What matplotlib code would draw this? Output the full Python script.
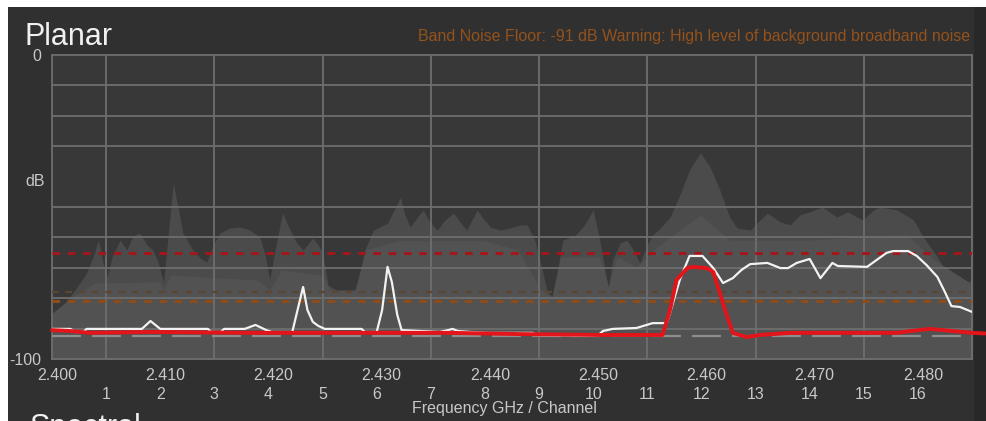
import matplotlib
matplotlib.use("Agg")
import matplotlib.pyplot as plt
from matplotlib.patches import Rectangle
from matplotlib.transforms import ScaledTranslation

# ---------------- data ----------------
# background (max-hold) envelope: frequency (GHz), level (dB)
env_freq = [2.4000, 2.4007, 2.4019, 2.4031, 2.4038, 2.4043, 2.4047, 2.4051, 2.4056, 2.4063,
            2.4069, 2.4075, 2.4081, 2.4088, 2.4093, 2.4098, 2.4103, 2.4106, 2.4112, 2.4116,
            2.4121, 2.4130, 2.4137, 2.4143, 2.4149, 2.4155, 2.4164, 2.4174, 2.4183, 2.4192,
            2.4197, 2.4201, 2.4207, 2.4213, 2.4220, 2.4226, 2.4232, 2.4241, 2.4246, 2.4250,
            2.4255, 2.4266, 2.4280, 2.4285, 2.4289, 2.4297, 2.4310, 2.4316, 2.4322, 2.4326,
            2.4331, 2.4337, 2.4343, 2.4349, 2.4356, 2.4363, 2.4371, 2.4377, 2.4383, 2.4388,
            2.4393, 2.4398, 2.4405, 2.4414, 2.4423, 2.4432, 2.4439, 2.4446, 2.4452, 2.4457,
            2.4462, 2.4467, 2.4472, 2.4483, 2.4492, 2.4500, 2.4506, 2.4511, 2.4514, 2.4518,
            2.4525, 2.4531, 2.4537, 2.4543, 2.4550, 2.4555, 2.4562, 2.4571, 2.4580, 2.4589,
            2.4599, 2.4608, 2.4617, 2.4626, 2.4633, 2.4645, 2.4654, 2.4661, 2.4673, 2.4682,
            2.4691, 2.4700, 2.4712, 2.4725, 2.4735, 2.4749, 2.4759, 2.4765, 2.4781, 2.4796,
            2.4805, 2.4818, 2.4825, 2.4832, 2.4839, 2.4850]
env_db = [-84.9, -83.9, -78.3, -72.4, -66.4, -60.9, -68.1, -73.0, -65.8, -60.9,
          -64.1, -59.5, -58.6, -62.5, -64.1, -68.1, -75.0, -64.1, -42.1, -49.3,
          -58.6, -64.1, -66.8, -68.1, -62.5, -58.6, -56.9, -56.6, -57.6, -59.9,
          -65.8, -74.0, -62.5, -52.0, -57.6, -61.8, -64.1, -60.2, -62.5, -64.8,
          -75.7, -78.0, -77.3, -70.7, -64.1, -57.6, -55.3, -51.0, -46.7, -52.6,
          -56.6, -53.6, -51.0, -54.9, -57.6, -54.3, -52.0, -54.9, -57.6, -54.3,
          -51.0, -53.6, -56.6, -57.6, -56.9, -55.9, -55.9, -60.9, -69.1, -77.3,
          -79.6, -70.7, -60.9, -59.5, -55.9, -51.0, -60.9, -70.7, -76.3, -67.4,
          -61.8, -60.9, -64.1, -68.4, -62.5, -59.2, -56.9, -53.3, -46.1, -37.8,
          -32.2, -36.8, -44.4, -53.3, -56.9, -57.6, -54.3, -52.0, -54.9, -55.9,
          -52.6, -51.6, -50.0, -53.3, -51.6, -54.3, -51.0, -50.0, -51.0, -54.3,
          -59.9, -66.4, -70.7, -75.0, -75.7, -74.0]

# inner (denser) part of the background
inner_freq = [2.4000, 2.4021, 2.4040, 2.4100, 2.4103, 2.4110, 2.4190, 2.4201, 2.4212, 2.4250,
              2.4257, 2.4280, 2.4290, 2.4320, 2.4400, 2.4430, 2.4452, 2.4462, 2.4470, 2.4506,
              2.4514, 2.4522, 2.4540, 2.4560, 2.4599, 2.4626, 2.4700, 2.4790, 2.4815, 2.4850]
inner_db = [-84.9, -79.0, -75.0, -74.6, -77.3, -72.4, -74.0, -77.3, -70.7, -72.4,
            -77.3, -77.3, -64.1, -61.1, -61.1, -64.1, -77.3, -79.6, -66.4, -66.4,
            -76.3, -66.4, -69.7, -62.8, -52.6, -60.9, -60.9, -59.2, -67.4, -75.4]

# current max trace (white)
white_freq = [2.4000, 2.4017, 2.4021, 2.4029, 2.4032, 2.4083, 2.4091, 2.4100, 2.4144, 2.4147,
              2.4156, 2.4159, 2.4178, 2.4188, 2.4198, 2.4203, 2.4222, 2.4232, 2.4236, 2.4241,
              2.4246, 2.4252, 2.4286, 2.4289, 2.4300, 2.4305, 2.4310, 2.4314, 2.4319, 2.4323,
              2.4358, 2.4366, 2.4370, 2.4375, 2.4386, 2.4402, 2.4444, 2.4448, 2.4504, 2.4509,
              2.4518, 2.4540, 2.4555, 2.4568, 2.4571, 2.4580, 2.4589, 2.4601, 2.4611, 2.4620,
              2.4629, 2.4637, 2.4645, 2.4661, 2.4673, 2.4680, 2.4688, 2.4700, 2.4710, 2.4721,
              2.4726, 2.4753, 2.4762, 2.4771, 2.4777, 2.4791, 2.4799, 2.4808, 2.4818, 2.4825,
              2.4831, 2.4839, 2.4850]
white_db = [-90.1, -90.1, -91.1, -91.1, -90.1, -90.1, -87.5, -90.1, -90.1, -91.1,
            -91.1, -90.1, -90.1, -88.8, -90.5, -91.1, -91.1, -76.3, -83.9, -87.8,
            -89.1, -90.1, -90.1, -91.1, -91.1, -83.9, -69.7, -74.7, -85.5, -90.5,
            -91.1, -90.5, -90.1, -90.8, -91.1, -91.4, -91.4, -92.1, -92.4, -90.8,
            -90.1, -89.8, -88.2, -88.2, -84.9, -74.0, -66.1, -66.1, -70.1, -75.0,
            -73.4, -70.7, -68.8, -68.4, -70.1, -70.1, -68.4, -67.1, -73.4, -68.4,
            -69.4, -69.7, -67.4, -65.1, -64.5, -64.5, -66.1, -69.1, -73.0, -78.0,
            -82.6, -82.9, -84.5]

# current trace (red)
red_freq = [2.4000, 2.4017, 2.4035, 2.4091, 2.4183, 2.4275, 2.4368, 2.4432, 2.4506, 2.4564,
            2.4571, 2.4577, 2.4587, 2.4592, 2.4605, 2.4611, 2.4617, 2.4624, 2.4629, 2.4642,
            2.4654, 2.4682, 2.4737, 2.4781, 2.4793, 2.4811, 2.4832, 2.4850, 2.4862]
red_db = [-90.5, -90.8, -91.4, -91.1, -91.4, -91.4, -91.4, -91.8, -92.1, -92.1,
          -83.9, -74.0, -70.1, -69.7, -70.1, -71.4, -78.3, -86.2, -91.4, -92.8,
          -92.1, -91.4, -91.4, -91.4, -90.8, -90.1, -90.8, -91.4, -91.6]

# threshold lines (dB)
red_threshold = -65.0
brown_threshold = -78.0
orange_threshold = -81.0
noise_floor = -92.4

freq_ticks = [2.400, 2.410, 2.420, 2.430, 2.440, 2.450, 2.460, 2.470, 2.480]
freq_labels = ["2.400", "2.410", "2.420", "2.430", "2.440", "2.450", "2.460", "2.470", "2.480"]
channels = list(range(1, 17))
channel_freqs = [2.400 + 0.005 * c for c in channels]
y_ticks = [0, -40, -100]
y_labels = ["0", "dB", "-100"]

title = "Planar"
warning = "Band Noise Floor: -91 dB Warning: High level of background broadband noise"
xlabel = "Frequency GHz / Channel"

# ---------------- figure ----------------
W, H = 987, 421
plt.rcParams['font.family'] = ['Liberation Sans', 'DejaVu Sans']
fig = plt.figure(figsize=(W / 100, H / 100), dpi=100, facecolor="white")

BG = "#303030"
fig.patches.append(Rectangle((8 / W, 0), 1 - 8 / W, 1 - 7 / H, transform=fig.transFigure,
                             facecolor=BG, edgecolor="none", zorder=-10))
fig.patches.append(Rectangle((974 / W, 0), 1 - 974 / W, 1 - 7 / H, transform=fig.transFigure,
                             facecolor="#282828", edgecolor="none", zorder=-9))

L, R, T, B = 52, 972, 55, 359
ax = fig.add_axes([L / W, 1 - B / H, (R - L) / W, (B - T) / H])
ax.set_facecolor("#383838")
ax.set_xlim(2.400, 2.485)
ax.set_ylim(-100, 0)

# background fills
ax.fill_between(env_freq, env_db, -100, color="#4b4b4b", linewidth=0, zorder=1)
ax.fill_between(inner_freq, inner_db, -100, color="#525252", linewidth=0, zorder=1.1)

# grid
ax.set_xticks([2.400 + 0.005 * i for i in range(18)], minor=True)
ax.set_yticks(range(-100, 1, 10), minor=True)
ax.grid(which="minor", color="#6e6e6e", linewidth=1.3)
ax.set_axisbelow(False)

# threshold lines
ax.axhline(brown_threshold, color="#5b4634", linewidth=1.6, linestyle=(0, (3, 3)), zorder=3)
ax.axhline(red_threshold, color="#a3161c", linewidth=2.2, linestyle=(0, (2.5, 2.5)), zorder=3)
ax.axhline(orange_threshold, color="#8c4c1c", linewidth=2.2, linestyle=(0, (2.5, 2.5)), zorder=3)
ax.axhline(noise_floor, color="#8e8e8e", linewidth=1.6, linestyle=(0, (13, 5)), zorder=3)

# traces
ax.plot(white_freq, white_db, color="#f2f2f2", linewidth=1.6, zorder=4)
ax.plot(red_freq, red_db, color="#e3141a", linewidth=2.8, zorder=5, clip_on=False,
        solid_capstyle="round")

for s in ax.spines.values():
    s.set_color("#6e6e6e")
    s.set_linewidth(1.3)

# axis ticks and labels
ax.set_xticks(freq_ticks, labels=freq_labels)
ax.set_yticks(y_ticks, labels=y_labels)
ax.tick_params(axis="both", which="both", length=0)
ax.tick_params(axis="x", colors="#c8c8c8", labelsize=11.5, pad=6.5)
ax.tick_params(axis="y", colors="#c8c8c8", labelsize=11.5, pad=8)
for lab in ax.get_xticklabels():
    lab.set_transform(lab.get_transform() + ScaledTranslation(5 / 100, 0, fig.dpi_scale_trans))
for lab in ax.get_yticklabels():
    if lab.get_text() == "dB":
        lab.set_transform(lab.get_transform() + ScaledTranslation(4 / 100, -3 / 100, fig.dpi_scale_trans))

sec = ax.secondary_xaxis("bottom")
sec.set_xticks(channel_freqs, labels=[str(c) for c in channels])
sec.tick_params(length=0, pad=20, colors="#c8c8c8", labelsize=11.5)
sec.spines["bottom"].set_visible(False)

ax.annotate(xlabel, xy=(0.492, 0), xycoords="axes fraction", xytext=(0, -36),
            textcoords="offset points", ha="center", va="center", color="#c8c8c8",
            fontsize=11.5)

fig.text(25 / W, 1 - 45 / H, title, color="#f0f0f0", fontsize=22, va="baseline", ha="left")
fig.text(970 / W, 1 - 37 / H, warning, color="#94521c", fontsize=11.5, va="center", ha="right")
fig.text(30 / W, 1 - 436 / H, "Spectral", color="#f0f0f0", fontsize=22, va="baseline", ha="left")

fig.savefig("out.png", dpi=100, facecolor=fig.get_facecolor())
